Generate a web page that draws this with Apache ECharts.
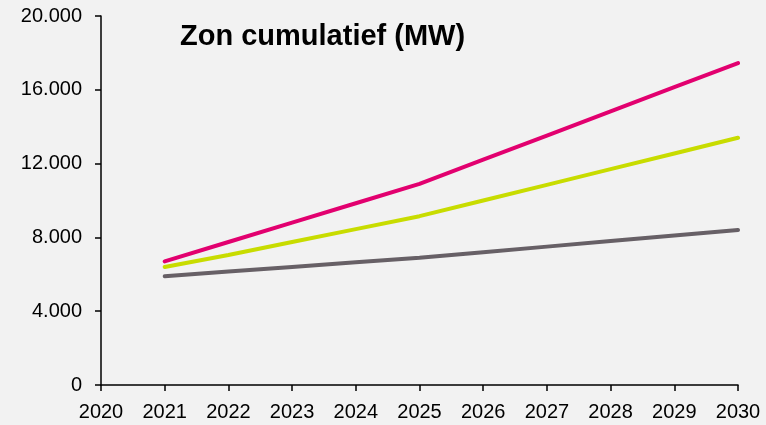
<!DOCTYPE html>
<html><head><meta charset="utf-8">
<script src="https://cdn.jsdelivr.net/npm/echarts@6/dist/echarts.min.js"></script>
<style>html,body{margin:0;padding:0;background:#f2f2f2;}#c{width:766px;height:425px;}</style>
</head><body><div id="c"></div>
<script>
const years = ['2020','2021','2022','2023','2024','2025','2026','2027','2028','2029','2030'];
const pink  = [null, 6700, 7750, 8800, 9850, 10900, 12210, 13520, 14830, 16140, 17450];
const green = [null, 6400, 7050, 7750, 8450, 9150, 10000, 10850, 11700, 12550, 13400];
const grey  = [null, 5900, 6150, 6400, 6650, 6900, 7200, 7500, 7800, 8100, 8400];
const title = 'Zon cumulatief (MW)';

const chart = echarts.init(document.getElementById('c'));
const fmt = v => v === 0 ? '0' : String(v).replace(/\B(?=(\d{3})+(?!\d))/g, '.');
function line(data, color){
  return {type:'line', data, symbol:'none', smooth:false, lineStyle:{color, width:4, cap:'round'}, itemStyle:{color}};
}
chart.setOption({
  backgroundColor:'#f2f2f2',
  animation:false,
  title:{text:title, left:175, top:17, textStyle:{fontFamily:'Liberation Sans, Arial', fontWeight:'bold', fontSize:29, color:'#000'}},
  grid:{left:101, right:28, top:16, bottom:40},
  xAxis:{type:'category', data:years, boundaryGap:false,
    axisLine:{lineStyle:{color:'#000', width:1.5}},
    axisTick:{alignWithLabel:true, length:6, lineStyle:{color:'#000', width:1.5}},
    axisLabel:{color:'#000', fontFamily:'Liberation Sans, Arial', fontSize:20, margin:17, showMaxLabel:true}},
  yAxis:{type:'value', min:0, max:20000, interval:4000,
    splitLine:{show:false},
    axisLine:{show:true, lineStyle:{color:'#000', width:1.5}},
    axisTick:{show:true, length:6, lineStyle:{color:'#000', width:1.5}},
    axisLabel:{color:'#000', fontFamily:'Liberation Sans, Arial', fontSize:20, margin:19, formatter:fmt}},
  series:[line(grey,'#676066'), line(green,'#c8dc00'), line(pink,'#e2006f')]
});
</script></body></html>
